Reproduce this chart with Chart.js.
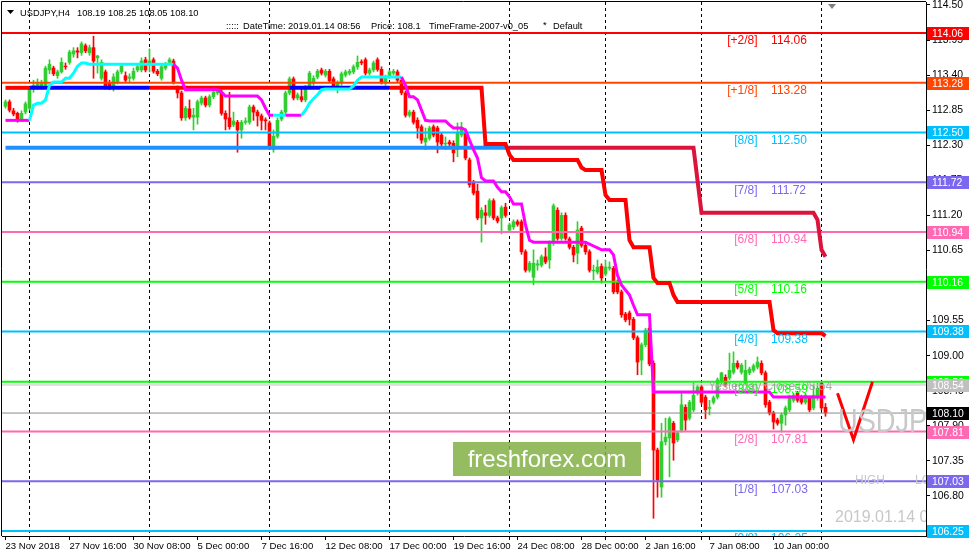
<!DOCTYPE html>
<html><head><meta charset="utf-8">
<script src="https://cdn.jsdelivr.net/npm/chart.js@4/dist/chart.umd.min.js"></script>
<style>html,body{margin:0;padding:0;background:#fff;}#wrap{width:970px;height:558px;position:relative;}canvas{display:block;}</style>
</head><body><div id="wrap"><canvas id="c" width="970" height="558"></canvas></div>
<script>
// ---------- DATA (USDJPY H4) ----------
const opens = [
112.91,112.98,112.84,112.80,112.71,112.82,112.88,113.18,113.20,113.21,
113.24,113.48,113.51,113.39,113.45,113.54,113.60,113.73,113.78,113.75,
113.86,113.75,113.83,113.67,113.35,113.45,113.28,113.21,113.29,113.45,
113.39,113.35,113.35,113.48,113.48,113.64,113.56,113.64,113.46,113.35,
113.51,113.60,113.62,113.20,113.12,112.73,112.87,112.74,112.74,112.96,
113.04,112.93,113.06,113.12,113.13,112.80,112.73,112.62,112.66,112.54,
112.66,112.66,112.90,112.82,112.76,112.69,112.65,112.23,112.44,112.71,
112.82,113.12,113.34,113.04,113.06,113.01,113.21,113.28,113.37,113.48,
113.40,113.46,113.34,113.23,113.28,113.40,113.43,113.45,113.53,113.60,
113.64,113.43,113.48,113.64,113.49,113.28,113.39,113.43,113.45,113.32,
113.12,112.77,112.82,112.69,112.59,112.35,112.41,112.59,112.57,112.46,
112.32,112.35,112.33,112.23,112.46,112.49,112.07,111.72,111.58,111.16,
111.24,111.20,111.43,111.16,111.16,111.33,110.97,111.02,111.10,111.10,
110.63,110.34,110.23,110.42,110.42,110.55,110.50,110.77,111.28,110.84,
111.20,110.83,110.70,110.61,111.00,110.73,110.63,110.33,110.31,110.40,
110.28,110.37,110.37,110.15,110.00,109.65,109.67,109.57,109.28,108.93,
109.17,109.43,108.88,107.52,106.94,107.65,107.71,107.94,107.68,107.83,
108.19,108.02,108.15,108.41,108.51,108.35,108.18,108.27,108.35,108.59,
108.66,108.65,108.74,108.88,108.74,108.57,108.73,108.77,108.82,108.88,
108.73,108.27,108.10,107.99,107.94,108.07,108.15,108.30,108.41,108.35,
108.27,108.34,108.18,108.34,108.57,108.19];
const highs = [
113.01,113.01,112.88,112.82,112.84,112.98,113.21,113.32,113.34,113.32,
113.54,113.64,113.54,113.48,113.67,113.59,113.79,113.83,113.83,113.92,
113.89,113.87,114.01,113.71,113.64,113.48,113.32,113.42,113.48,113.57,
113.45,113.42,113.51,113.57,113.67,113.68,113.81,113.67,113.49,113.56,
113.60,113.67,113.65,113.23,113.15,112.91,113.01,112.88,113.01,113.07,
113.07,113.09,113.17,113.20,113.17,112.84,113.13,112.82,112.69,112.69,
112.73,112.93,112.93,112.85,112.79,112.73,112.68,112.54,112.73,112.85,
113.15,113.37,113.37,113.12,113.20,113.24,113.46,113.39,113.49,113.51,
113.49,113.49,113.37,113.31,113.45,113.48,113.49,113.56,113.70,113.64,
113.67,113.51,113.62,113.67,113.53,113.40,113.48,113.49,113.48,113.35,
113.15,112.85,112.85,112.73,112.62,112.57,112.60,112.62,112.60,112.49,
112.43,112.38,112.37,112.65,112.66,112.52,112.10,111.75,111.69,111.32,
111.36,111.46,111.46,111.19,111.35,111.39,111.08,111.13,111.13,111.13,
110.66,110.48,110.66,110.50,110.58,110.69,110.80,111.38,111.32,111.24,
111.24,110.86,110.73,111.10,111.03,110.77,110.66,110.42,110.50,110.44,
110.50,110.47,110.40,110.19,110.03,109.68,109.70,109.60,109.31,109.20,
109.43,109.47,108.92,107.55,107.94,108.02,108.04,107.97,107.82,108.41,
108.23,108.30,108.57,108.54,108.54,108.38,108.30,108.37,108.65,108.74,
108.70,109.04,109.06,108.92,108.88,108.93,108.82,108.87,108.98,108.92,
108.76,108.30,108.13,108.02,108.10,108.21,108.38,108.41,108.44,108.38,
108.41,108.37,108.54,108.57,108.60,108.25];
const lows = [
112.88,112.82,112.76,112.66,112.68,112.79,112.85,113.13,113.17,113.18,
113.21,113.42,113.39,113.35,113.43,113.49,113.57,113.68,113.67,113.71,
113.75,113.71,113.35,113.43,113.32,113.18,113.17,113.15,113.26,113.42,
113.29,113.29,113.32,113.45,113.45,113.45,113.45,113.43,113.39,113.32,
113.48,113.57,113.26,113.04,112.69,112.69,112.71,112.54,112.63,112.93,
112.90,112.90,113.03,113.09,112.77,112.54,112.55,112.59,112.19,112.41,
112.63,112.63,112.69,112.60,112.54,112.54,112.23,112.19,112.41,112.68,
112.79,113.09,113.01,113.01,112.98,112.98,113.18,113.24,113.34,113.40,
113.37,113.28,113.18,113.12,113.24,113.37,113.40,113.42,113.49,113.56,
113.40,113.40,113.45,113.46,113.26,113.24,113.35,113.40,113.29,113.09,
112.74,112.74,112.63,112.41,112.33,112.23,112.38,112.43,112.18,112.29,
112.23,112.27,112.04,112.12,112.43,112.07,111.64,111.52,111.13,110.78,
111.06,111.17,111.13,111.08,110.91,111.17,110.94,110.98,111.03,110.59,
110.31,110.31,110.11,110.34,110.39,110.44,110.37,110.73,110.81,110.81,
110.81,110.67,110.47,110.44,110.70,110.59,110.31,110.19,110.28,110.14,
110.25,110.34,109.97,109.97,109.60,109.53,109.48,109.25,108.70,108.70,
109.14,108.84,106.45,106.78,106.78,107.60,107.10,107.36,107.65,107.80,
107.83,107.99,108.12,108.38,108.24,108.01,108.07,108.24,108.32,108.55,
108.51,108.62,108.71,108.79,108.71,108.54,108.70,108.74,108.79,108.70,
108.19,108.07,107.85,107.91,107.80,107.91,108.12,108.27,108.27,108.24,
108.24,108.12,108.15,108.30,108.15,108.05];
const closes = [
112.98,112.85,112.79,112.71,112.80,112.95,113.18,113.24,113.26,113.28,
113.51,113.57,113.42,113.45,113.60,113.53,113.76,113.78,113.76,113.89,
113.78,113.83,113.62,113.70,113.60,113.21,113.21,113.37,113.45,113.54,
113.32,113.37,113.46,113.53,113.62,113.48,113.62,113.46,113.42,113.53,
113.57,113.64,113.29,113.12,112.73,112.88,112.74,112.77,112.98,113.04,
112.93,113.06,113.13,113.17,112.80,112.71,112.59,112.68,112.54,112.66,
112.68,112.90,112.82,112.76,112.69,112.68,112.27,112.44,112.69,112.82,
113.12,113.34,113.04,113.09,113.01,113.21,113.43,113.35,113.46,113.43,
113.46,113.31,113.21,113.28,113.42,113.45,113.46,113.53,113.60,113.59,
113.43,113.48,113.59,113.49,113.29,113.37,113.45,113.46,113.32,113.12,
112.77,112.82,112.66,112.57,112.38,112.41,112.57,112.46,112.35,112.32,
112.33,112.32,112.18,112.49,112.57,112.10,111.68,111.55,111.16,111.28,
111.20,111.43,111.16,111.11,111.32,111.20,111.05,111.10,111.06,110.63,
110.34,110.45,110.45,110.44,110.55,110.47,110.77,111.35,110.84,111.20,
110.84,110.70,110.58,110.97,110.73,110.63,110.34,110.34,110.39,110.22,
110.39,110.39,110.00,110.00,109.64,109.56,109.57,109.28,108.90,109.17,
109.40,108.87,107.52,107.05,107.65,107.72,108.01,107.63,107.79,108.23,
107.99,108.27,108.38,108.51,108.27,108.15,108.19,108.34,108.62,108.73,
108.54,108.77,108.88,108.82,108.85,108.77,108.79,108.84,108.90,108.73,
108.23,108.10,107.96,107.94,108.07,108.18,108.35,108.38,108.30,108.27,
108.38,108.15,108.38,108.49,108.18,108.10];
// trailing-stop indicator (cyan = up, magenta = down)
const trendStop = [
112.69,112.69,112.69,112.69,112.69,112.69,112.69,112.93,112.96,112.96,
113.01,113.24,113.29,113.29,113.29,113.35,113.35,113.43,113.54,113.59,
113.59,113.57,113.57,113.57,113.57,113.57,113.57,113.57,113.57,113.57,
113.57,113.57,113.57,113.57,113.57,113.57,113.57,113.57,113.57,113.57,
113.57,113.57,113.57,113.51,113.32,113.17,113.17,113.17,113.17,113.17,
113.17,113.17,113.17,113.17,113.13,113.07,113.07,113.07,113.07,113.07,
113.07,113.07,113.07,113.07,113.01,112.88,112.77,112.77,112.77,112.77,
112.77,112.77,112.77,112.77,112.77,112.85,112.96,113.03,113.09,113.17,
113.18,113.18,113.18,113.18,113.18,113.18,113.18,113.23,113.32,113.37,
113.37,113.37,113.37,113.37,113.37,113.37,113.37,113.37,113.37,113.37,
113.24,113.06,113.06,113.01,112.85,112.69,112.68,112.68,112.68,112.68,
112.68,112.62,112.57,112.57,112.57,112.54,112.38,112.23,112.10,111.79,
111.74,111.74,111.74,111.64,111.57,111.57,111.49,111.38,111.38,111.38,
111.05,110.81,110.78,110.78,110.78,110.78,110.78,110.78,110.78,110.78,
110.78,110.78,110.78,110.78,110.78,110.78,110.75,110.72,110.69,110.66,
110.66,110.66,110.58,110.26,110.11,110.03,109.95,109.79,109.64,109.64,
109.64,109.64,108.43,108.43,108.43,108.43,108.43,108.43,108.43,108.43,
108.43,108.43,108.43,108.43,108.43,108.43,108.43,108.43,108.43,108.43,
108.43,108.43,108.43,108.43,108.43,108.43,108.43,108.43,108.43,108.43,
108.43,108.43,108.35,108.35,108.35,108.35,108.35,108.35,108.35,108.35,
108.35,108.35,108.35,108.35,108.35,108.35];
const trendUpRanges = [[6,42],[67,70],[74,99]];
// upper step stop (red / blue)
const upperStop = [
113.20,113.20,113.20,113.20,113.20,113.20,113.20,113.20,113.20,113.20,
113.20,113.20,113.20,113.20,113.20,113.20,113.20,113.20,113.20,113.20,
113.20,113.20,113.20,113.20,113.20,113.20,113.20,113.20,113.20,113.20,
113.20,113.20,113.20,113.20,113.20,113.20,113.20,113.20,113.20,113.20,
113.20,113.20,113.20,113.20,113.20,113.20,113.20,113.20,113.20,113.20,
113.20,113.20,113.20,113.20,113.20,113.20,113.20,113.20,113.20,113.20,
113.20,113.20,113.20,113.20,113.20,113.20,113.20,113.20,113.20,113.20,
113.20,113.20,113.20,113.20,113.20,113.20,113.20,113.20,113.20,113.20,
113.20,113.20,113.20,113.20,113.20,113.20,113.20,113.20,113.20,113.20,
113.20,113.20,113.20,113.20,113.20,113.20,113.20,113.20,113.20,113.20,
113.20,113.20,113.20,113.20,113.20,113.20,113.20,113.20,113.20,113.20,
113.20,113.20,113.20,113.20,113.20,113.20,113.20,113.20,113.20,113.20,
112.32,112.32,112.32,112.32,112.32,112.32,112.15,112.07,112.07,112.07,
112.07,112.07,112.07,112.07,112.07,112.07,112.07,112.07,112.07,112.07,
112.07,112.07,112.07,112.07,111.95,111.91,111.91,111.91,111.91,111.91,
111.52,111.44,111.44,111.44,111.44,111.44,110.81,110.70,110.70,110.70,
110.70,110.70,110.22,110.14,110.14,110.14,110.14,109.95,109.84,109.84,
109.84,109.84,109.84,109.84,109.84,109.84,109.84,109.84,109.84,109.84,
109.84,109.84,109.84,109.84,109.84,109.84,109.84,109.84,109.84,109.84,
109.84,109.84,109.40,109.35,109.35,109.35,109.35,109.35,109.35,109.35,
109.35,109.35,109.35,109.35,109.35,109.31];
const upperBlueRanges = [[6,36],[71,96]];
// lower step stop (dodger blue / crimson)
const lowerStop = [
112.26,112.26,112.26,112.26,112.26,112.26,112.26,112.26,112.26,112.26,
112.26,112.26,112.26,112.26,112.26,112.26,112.26,112.26,112.26,112.26,
112.26,112.26,112.26,112.26,112.26,112.26,112.26,112.26,112.26,112.26,
112.26,112.26,112.26,112.26,112.26,112.26,112.26,112.26,112.26,112.26,
112.26,112.26,112.26,112.26,112.26,112.26,112.26,112.26,112.26,112.26,
112.26,112.26,112.26,112.26,112.26,112.26,112.26,112.26,112.26,112.26,
112.26,112.26,112.26,112.26,112.26,112.26,112.26,112.26,112.26,112.26,
112.26,112.26,112.26,112.26,112.26,112.26,112.26,112.26,112.26,112.26,
112.26,112.26,112.26,112.26,112.26,112.26,112.26,112.26,112.26,112.26,
112.26,112.26,112.26,112.26,112.26,112.26,112.26,112.26,112.26,112.26,
112.26,112.26,112.26,112.26,112.26,112.26,112.26,112.26,112.26,112.26,
112.26,112.26,112.26,112.26,112.26,112.26,112.26,112.26,112.26,112.26,
112.26,112.26,112.26,112.26,112.26,112.26,112.26,112.26,112.26,112.26,
112.26,112.26,112.26,112.26,112.26,112.26,112.26,112.26,112.26,112.26,
112.26,112.26,112.26,112.26,112.26,112.26,112.26,112.26,112.26,112.26,
112.26,112.26,112.26,112.26,112.26,112.26,112.26,112.26,112.26,112.26,
112.26,112.26,112.26,112.26,112.26,112.26,112.26,112.26,112.26,112.26,
112.26,112.26,112.26,111.75,111.24,111.24,111.24,111.24,111.24,111.24,
111.24,111.24,111.24,111.24,111.24,111.24,111.24,111.24,111.24,111.24,
111.24,111.24,111.24,111.24,111.24,111.24,111.24,111.24,111.24,111.24,
111.24,111.24,111.24,111.13,110.66,110.55];
const lowerCrimsonFrom = 126;
// Murrey math levels
const murreyNames  = ['[+2/8]','[+1/8]','[8/8]','[7/8]','[6/8]','[5/8]','[4/8]','[3/8]','[2/8]','[1/8]','[0/8]'];
const murreyLevels = [114.06,113.28,112.50,111.72,110.94,110.16,109.38,108.59,107.81,107.03,106.25];
const prevClose = 108.54;
const lastPrice = 108.10;
const yTicks = [106.80,107.35,107.90,108.45,109.00,109.55,110.10,110.65,111.20,111.75,112.30,112.85,113.40,113.95,114.50];
const xTickIdx = [0,16,32,48,64,80,96,112,128,144,160,176,192];
const xTickLabels = ['23 Nov 2018','27 Nov 16:00','30 Nov 08:00','5 Dec 00:00','7 Dec 16:00','12 Dec 08:00','17 Dec 00:00','19 Dec 16:00','24 Dec 08:00','28 Dec 00:00','2 Jan 16:00','7 Jan 08:00','10 Jan 00:00'];
const weekStarts = [6,36,66,96,126,150,174,204];
const checkMark = [{x:208,y:108.41},{x:212,y:107.68},{x:216.75,y:108.59}];

// ---------- STYLE ----------
const FONT = "'Liberation Sans', Arial, sans-serif";
const UP = '#32CD32', DN = '#FF0000';
const levelColors = ['#FF0000','#FF4500','#00BFFF','#7B68EE','#FF69B4','#00FF00','#00BFFF','#00FF00','#FF69B4','#7B68EE','#00BFFF'];
const XMIN = -0.875, XMAX = 230.125;
const inRanges = (i, rs) => rs.some(r => i >= r[0] && i < r[1]);

const idx = closes.map((_, i) => i);
const candleCol = idx.map(i => closes[i] >= opens[i] ? UP : DN);
const wickData = idx.map(i => ({x: i, y: [lows[i], highs[i]]}));
const bodyData = idx.map(i => ({x: i, y: Math.abs(opens[i] - closes[i]) < 0.01 ? [opens[i] - 0.008, opens[i] + 0.008] : [opens[i], closes[i]]}));
const series = arr => arr.map((v, i) => ({x: i, y: v}));

const datasets = [];
datasets.push({type:'bar', data: wickData, backgroundColor: candleCol, barThickness: 1, grouped: false, order: 20, borderWidth: 0});
datasets.push({type:'bar', data: bodyData, backgroundColor: candleCol, barThickness: 3, grouped: false, order: 19, borderWidth: 0});
murreyLevels.forEach((L, k) => datasets.push({type:'line', data:[{x:XMIN,y:L},{x:XMAX,y:L}], borderColor: levelColors[k], borderWidth: 2, pointRadius: 0, order: 10}));
datasets.push({type:'line', data:[{x:XMIN,y:prevClose},{x:XMAX,y:prevClose}], borderColor:'#C0C0C0', borderWidth:1, pointRadius:0, order: 11});
datasets.push({type:'line', data:[{x:XMIN,y:lastPrice},{x:XMAX,y:lastPrice}], borderColor:'#8A8A8A', borderWidth:1, pointRadius:0, order: 11});
datasets.push({type:'line', data: series(lowerStop), borderWidth: 4, pointRadius: 0, order: 3,
  borderColor:'#DC143C', segment:{borderColor: c => c.p0DataIndex < lowerCrimsonFrom ? '#1E90FF' : '#DC143C'}});
datasets.push({type:'line', data: series(upperStop), borderWidth: 4, pointRadius: 0, order: 2,
  borderColor:'#FF0000', segment:{borderColor: c => inRanges(c.p0DataIndex, upperBlueRanges) ? '#0000FF' : '#FF0000'}});
datasets.push({type:'line', data: series(trendStop), borderWidth: 3, pointRadius: 0, order: 1,
  borderColor:'#FF00FF', segment:{borderColor: c => inRanges(c.p0DataIndex, trendUpRanges) ? '#00FFFF' : '#FF00FF'}});
datasets.push({type:'line', data: checkMark, borderColor:'#FF0000', borderWidth: 3, pointRadius: 0, order: 0});

const overlay = {
  id: 'overlay',
  beforeDatasetsDraw(chart) {
    const {ctx, chartArea: a, scales: {x}} = chart;
    ctx.save();
    ctx.strokeStyle = '#000'; ctx.lineWidth = 1; ctx.setLineDash([3, 3]);
    weekStarts.forEach(i => {
      const px = Math.floor(x.getPixelForValue(i)) + 0.5;
      ctx.beginPath(); ctx.moveTo(px, a.top); ctx.lineTo(px, a.bottom); ctx.stroke();
    });
    ctx.restore();
  },
  afterDatasetsDraw(chart) {
    const {ctx, chartArea: a, scales: {x, y}} = chart;
    ctx.save();
    ctx.beginPath(); ctx.rect(a.left, a.top, a.right - a.left, a.bottom - a.top); ctx.clip();
    ctx.font = '12px ' + FONT; ctx.textBaseline = 'middle';
    const bx = x.getPixelForValue(188), vx = x.getPixelForValue(191.4);
    murreyLevels.forEach((L, k) => {
      const py = y.getPixelForValue(L) + 8;
      ctx.fillStyle = levelColors[k];
      ctx.textAlign = 'right'; ctx.fillText(murreyNames[k], bx, py);
      ctx.textAlign = 'left'; ctx.fillText(L.toFixed(2), vx, py);
    });
    // yesterday close label
    ctx.fillStyle = 'rgba(160,160,160,0.9)'; ctx.textAlign = 'left';
    const gy = y.getPixelForValue(prevClose) + 2;
    ctx.fillText('Yesterday Close', x.getPixelForValue(175.7), gy);
    ctx.fillText(prevClose.toFixed(2), x.getPixelForValue(197.5), gy);
    // symbol watermark (condensed)
    ctx.fillStyle = '#C8C8C8';
    ctx.save();
    ctx.translate(838, 432); ctx.scale(0.8, 1);
    ctx.font = '34px ' + FONT; ctx.textBaseline = 'alphabetic';
    ctx.fillText('USDJPY', 0, 0);
    ctx.restore();
    ctx.font = '12px ' + FONT; ctx.textBaseline = 'middle';
    ctx.fillText('HIGH', 855, 481);
    ctx.fillText('LOW', 915, 481);
    ctx.font = '16px ' + FONT;
    ctx.fillText('2019.01.14 08:56', 835, 518);
    // freshforex box
    ctx.fillStyle = 'rgba(132,176,70,0.85)';
    ctx.fillRect(453, 442, 188, 34);
    ctx.fillStyle = '#FFFFFF'; ctx.font = '24px ' + FONT; ctx.textAlign = 'center';
    ctx.fillText('freshforex.com', 547, 460);
    ctx.restore();
  },
  afterDraw(chart) {
    const {ctx, chartArea: a, scales: {y}} = chart;
    ctx.save();
    ctx.font = '10.4px ' + FONT; ctx.textBaseline = 'middle'; ctx.textAlign = 'left';
    const box = (v, bg, fg) => {
      const py = Math.round(y.getPixelForValue(v));
      ctx.fillStyle = bg; ctx.fillRect(a.right + 1, py - 6, 42, 13);
      ctx.fillStyle = fg; ctx.fillText(v.toFixed(2), a.right + 6, py + 1);
    };
    murreyLevels.forEach((L, k) => box(L, levelColors[k], '#FFFFFF'));
    box(prevClose, '#C0C0C0', '#FFFFFF');
    box(lastPrice, '#000000', '#FFFFFF');
    // header
    ctx.font = '9.3px ' + FONT;
    ctx.fillStyle = '#000';
    ctx.beginPath(); ctx.moveTo(7, 10); ctx.lineTo(14, 10); ctx.lineTo(10.5, 14); ctx.closePath(); ctx.fill();
    ctx.fillText('USDJPY,H4', 20, 13);
    ctx.fillText([opens[opens.length-1], highs[highs.length-1], lows[lows.length-1], closes[closes.length-1]].map(v => v.toFixed(2)).join(' '), 77, 13);
    ctx.fillText(':::::', 226, 26);
    ctx.fillText('DateTime: 2019.01.14 08:56', 243, 26);
    ctx.fillText('Price: 108.1', 371, 26);
    ctx.fillText('TimeFrame-2007-v0_05', 429, 26);
    ctx.fillText('*', 543, 25);
    ctx.fillText('Default', 553, 26);
    ctx.fillStyle = '#808080';
    ctx.beginPath(); ctx.moveTo(828, 4); ctx.lineTo(836, 4); ctx.lineTo(832, 9); ctx.closePath(); ctx.fill();
    // frame
    ctx.strokeStyle = '#000'; ctx.lineWidth = 1;
    ctx.beginPath(); ctx.moveTo(a.left - 0.5, a.bottom); ctx.lineTo(a.left - 0.5, a.top - 0.5); ctx.lineTo(a.right, a.top - 0.5); ctx.stroke();
    ctx.restore();
  }
};

new Chart(document.getElementById('c'), {
  type: 'bar',
  data: {datasets},
  options: {
    responsive: false, animation: false, events: [],
    layout: {padding: {top: 2, left: 2, right: 0, bottom: 0}},
    plugins: {legend: {display: false}, tooltip: {enabled: false}},
    scales: {
      x: {type: 'linear', min: XMIN, max: XMAX, offset: false,
        afterBuildTicks: s => { s.ticks = Array.from(new Set(xTickIdx.concat(weekStarts))).sort((p, q) => p - q).map(v => ({value: v})); },
        afterFit: s => { s.height = 22; s.paddingLeft = 0; s.paddingRight = 0; s.paddingTop = 0; s.paddingBottom = 0; },
        ticks: {autoSkip: false, maxRotation: 0, minRotation: 0, align: 'start', padding: 1, color: '#000', font: {family: FONT, size: 9.6},
          callback: v => { const k = xTickIdx.indexOf(v); return k >= 0 ? xTickLabels[k] : ''; }},
        grid: {drawOnChartArea: false, drawTicks: true, tickLength: 4, color: '#000', offset: false},
        border: {display: true, color: '#000'}},
      y: {type: 'linear', position: 'right', min: 106.172, max: 114.546,
        afterBuildTicks: s => { s.ticks = yTicks.map(v => ({value: v})); },
        afterFit: s => { s.width = 44; s.paddingLeft = 0; s.paddingRight = 0; s.paddingTop = 0; s.paddingBottom = 0; },
        ticks: {padding: 2, color: '#000', font: {family: FONT, size: 10.4}, callback: v => Number(v).toFixed(2)},
        grid: {drawOnChartArea: false, drawTicks: true, tickLength: 4, color: '#000'},
        border: {display: true, color: '#000'}}
    }
  },
  plugins: [overlay]
});
</script>
</body></html>
